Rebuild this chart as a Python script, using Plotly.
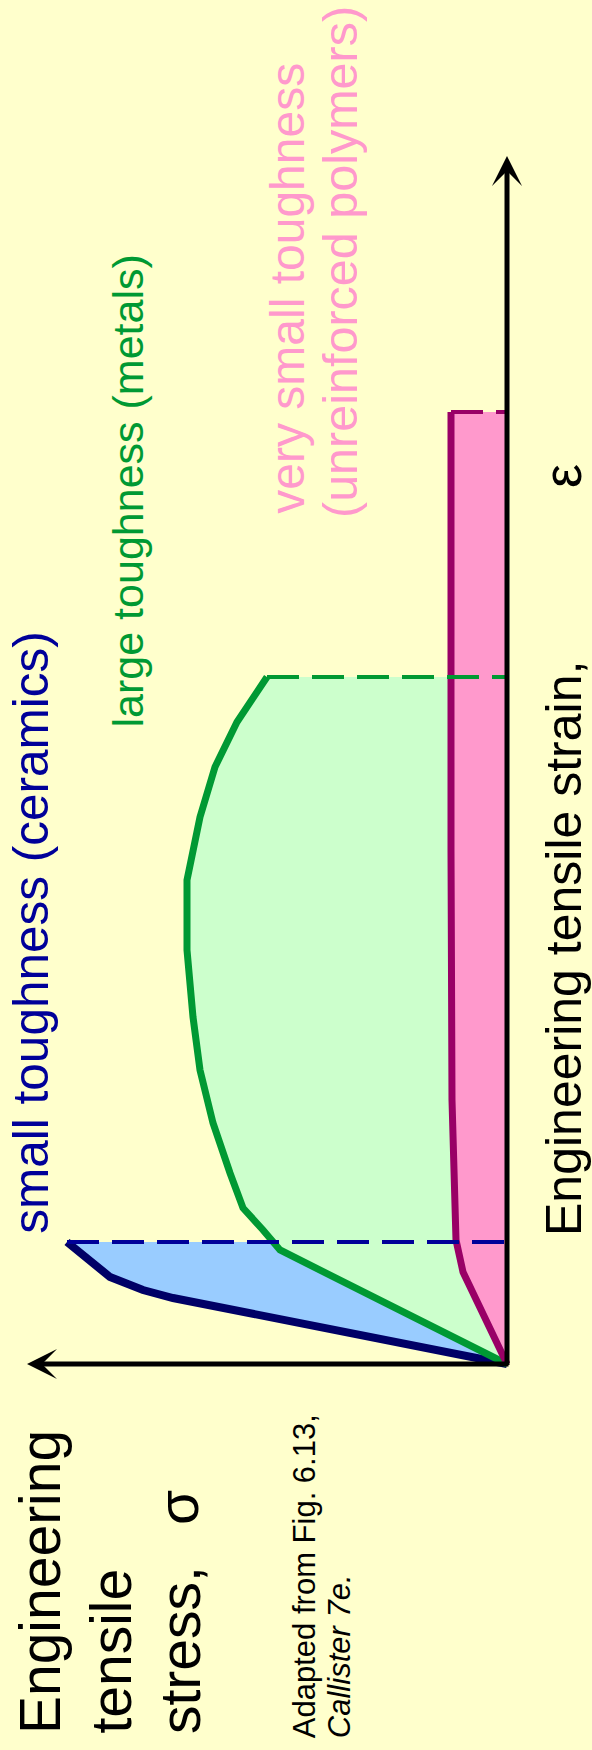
import plotly.graph_objects as go

W, H = 592, 1750

# ---------------- data (stress sigma, strain epsilon; arbitrary units) ----------------
ceramic_stress = [0, 33.4, 36.4, 39.7, 44.0]
ceramic_strain = [0, 6.6, 7.4, 8.7, 12.2]

metal_stress = [0, 22.7, 24.4, 26.4, 27.7, 29.4, 30.7, 31.4, 32.0, 32.0, 30.7, 29.2, 27.0, 24.0]
metal_strain = [0, 11.4, 13.4, 15.6, 19.1, 24.1, 29.4, 34.7, 41.4, 48.4, 54.7, 59.7, 64.2, 68.7]

polymer_stress = [0, 4.4, 5.1, 5.5, 5.6, 5.6]
polymer_strain = [0, 9.2, 12.4, 26.4, 51.4, 95.2]

stress_axis_max = 48.0
strain_axis_max = 120.8

labels = {
    "ceramic": "small toughness (ceramics)",
    "metal": "large toughness (metals)",
    "polymer1": "very small toughness",
    "polymer2": "(unreinforced polymers)",
    "strain": "Engineering tensile strain,",
    "strain_sym": "ε",
    "stress1": "Engineering",
    "stress2": "tensile",
    "stress3": "stress,",
    "stress_sym": "σ",
    "source1": "Adapted from Fig. 6.13,",
    "source2": "<i>Callister 7e.</i>",
}

# ---------------- style ----------------
BG = "#FFFFCC"
FONT = "Arial, Liberation Sans, sans-serif"
C_CER_LINE, C_CER_FILL, C_CER_TXT = "#000066", "#99CCFF", "#000099"
C_MET_LINE, C_MET_FILL, C_MET_TXT = "#009933", "#CCFFCC", "#009933"
C_POL_LINE, C_POL_FILL, C_POL_TXT = "#990066", "#FF99CC", "#FF99CC"

fig = go.Figure()


def fill_poly(stress, strain, color):
    xs = list(stress) + [0, 0]
    ys = list(strain) + [strain[-1], 0]
    fig.add_trace(go.Scatter(x=xs, y=ys, mode="lines", fill="toself", fillcolor=color,
                             line=dict(width=0), hoverinfo="skip", showlegend=False))


fill_poly(ceramic_stress, ceramic_strain, C_CER_FILL)
fill_poly(metal_stress, metal_strain, C_MET_FILL)
fill_poly(polymer_stress, polymer_strain, C_POL_FILL)

for s, e, c, w in [(ceramic_stress, ceramic_strain, C_CER_LINE, 8),
                   (metal_stress, metal_strain, C_MET_LINE, 7),
                   (polymer_stress, polymer_strain, C_POL_LINE, 7)]:
    fig.add_trace(go.Scatter(x=s, y=e, mode="lines", line=dict(color=c, width=w),
                             hoverinfo="skip", showlegend=False))

# fracture dashed lines
for s, e, c in [(ceramic_stress, ceramic_strain, "#000099"),
                (metal_stress, metal_strain, C_MET_LINE),
                (polymer_stress, polymer_strain, C_POL_LINE)]:
    fig.add_trace(go.Scatter(x=[s[-1], 0], y=[e[-1], e[-1]], mode="lines",
                             line=dict(color=c, width=4, dash="32px,13px"),
                             hoverinfo="skip", showlegend=False))

annotations = []
# axes arrows
annotations.append(dict(x=stress_axis_max, y=0, ax=-0.3, ay=0, xref="x", yref="y",
                        axref="x", ayref="y", showarrow=True, arrowhead=3, arrowsize=1,
                        arrowwidth=5, arrowcolor="black", text=""))
annotations.append(dict(x=0, y=strain_axis_max, ax=0, ay=-0.25, xref="x", yref="y",
                        axref="x", ayref="y", showarrow=True, arrowhead=3, arrowsize=1,
                        arrowwidth=5, arrowcolor="black", text=""))


def txt(text, xb, ypos, size, color, yanchor="bottom"):
    # xb: baseline x pixel; ypos: pixel y where text begins (text reads bottom to top)
    annotations.append(dict(text=text, x=(xb - 0.35 * size) / W, y=1 - ypos / H,
                            xref="paper", yref="paper", xanchor="center", yanchor=yanchor,
                            textangle=-90, showarrow=False, borderpad=0, borderwidth=0,
                            font=dict(family=FONT, size=size, color=color)))


txt(labels["ceramic"], 47, 1234, 49.5, C_CER_TXT)
txt(labels["metal"], 143, 727, 43, C_MET_TXT)
txt(labels["polymer1"], 304, 514, 48, C_POL_TXT)
txt(labels["polymer2"], 357, 518, 48.5, C_POL_TXT)
txt(labels["strain"], 581, 1236, 50, "black")
txt(labels["strain_sym"], 581, 476, 54, "black", yanchor="middle")
txt(labels["stress1"], 60, 1734, 57, "black")
txt(labels["stress2"], 130, 1734, 57, "black")
txt(labels["stress3"], 200, 1734, 57, "black")
txt(labels["stress_sym"], 198, 1508, 57, "black", yanchor="middle")
txt(labels["source1"], 315, 1738, 31, "black")
txt(labels["source2"], 350, 1738, 31, "black")

fig.update_layout(
    width=W, height=H, margin=dict(l=0, r=0, t=0, b=0, pad=0, autoexpand=False),
    paper_bgcolor=BG, plot_bgcolor=BG,
    xaxis=dict(range=[50.7, -8.5], visible=False, fixedrange=True),
    yaxis=dict(range=[-38.6, 136.4], visible=False, fixedrange=True),
    annotations=annotations, showlegend=False,
)

fig.write_html(
    "out.html",
    config={"displayModeBar": False},
    post_script="document.body.style.margin='0';document.body.style.padding='0';"
                "document.body.style.background='" + BG + "';window.dispatchEvent(new Event('resize'));",
)
